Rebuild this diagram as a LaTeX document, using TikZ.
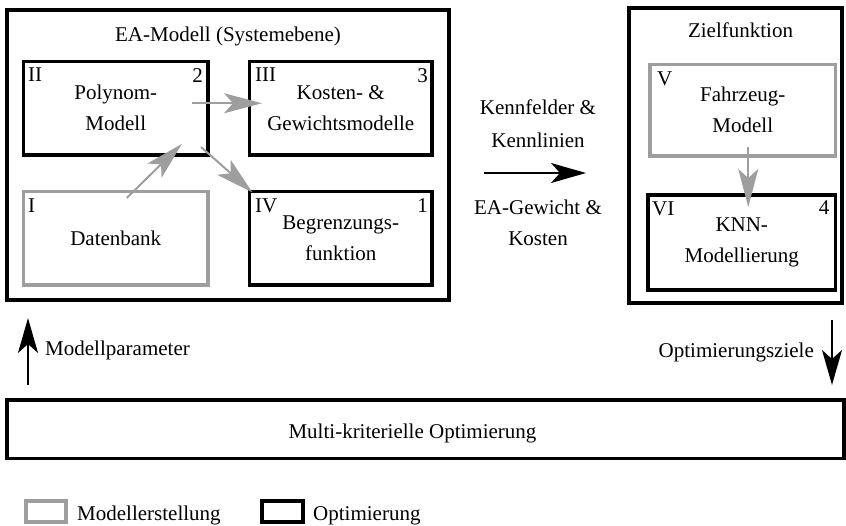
\documentclass[tikz,border=0pt]{standalone}
\usepackage{fontspec}
\setmainfont{Liberation Serif}
\usetikzlibrary{arrows.meta}

\definecolor{boxgray}{RGB}{158,158,158}

\begin{document}
\begin{tikzpicture}[x=1pt,y=-1pt,
  every node/.style={font=\fontsize{21}{31}\selectfont},
  frame/.style={draw, line width=3.5pt, inner sep=0pt, outer sep=0pt, align=center},
  optbox/.style={frame, draw=black},
  modbox/.style={frame, draw=boxgray},
  tag/.style={inner sep=0pt, anchor=north west},
  num/.style={inner sep=0pt, anchor=north east},
  plain/.style={inner sep=0pt, anchor=base},
  grayarrow/.style={draw=boxgray, line width=2pt,
    -{Stealth[length=38pt,width=20pt,inset=9pt,fill=boxgray]}},
  blackarrow/.style={draw=black, line width=2pt,
    -{Stealth[length=35pt,width=20pt,inset=9pt]}}]

\useasboundingbox (0,0) rectangle (846,525);

% system-level model
\node[optbox, minimum width=442pt, minimum height=290pt] (ea) at (228,155) {};
\node[plain] (eatitle) at ([shift={(0,31)}]ea.north) {EA-Modell (Systemebene)};

\node[optbox, minimum width=184.5pt, minimum height=93.5pt] (pol) at (115.75,108.25) {Polynom-\\Modell};
\node[optbox, minimum width=182.5pt, minimum height=93.5pt] (kos) at (340.75,108.25) {Kosten- \&\\Gewichtsmodelle};
\node[modbox, minimum width=184.5pt, minimum height=93.5pt] (dat) at (115.75,238.25) {Datenbank};
\node[optbox, minimum width=182.5pt, minimum height=93.5pt] (beg) at (340.75,238.25) {Begrenzungs-\\funktion};

\node[tag] (polI) at ([shift={(4.5,6.5)}]pol.north west) {II};
\node[num] (polN) at ([shift={(-5,6.5)}]pol.north east) {2};
\node[tag] (kosI) at ([shift={(5.5,6.5)}]kos.north west) {III};
\node[num] (kosN) at ([shift={(-4,6.5)}]kos.north east) {3};
\node[tag] (datI) at ([shift={(4.5,7)}]dat.north west) {I};
\node[tag] (begI) at ([shift={(5.5,7)}]beg.north west) {IV};
\node[num] (begN) at ([shift={(-4,7)}]beg.north east) {1};

\draw[grayarrow] ([shift={(-16,-5)}]pol.east) -- ([shift={(12.5,-5)}]kos.west);
\draw[grayarrow] ([shift={(11,6.5)}]dat.north) -- ([shift={(66,-11)}]pol.south);
\draw[grayarrow] ([shift={(-7,-8)}]pol.south east) -- ([shift={(3,1)}]beg.north west);

% objective function
\node[optbox, minimum width=213pt, minimum height=295pt] (ziel) at (735.5,155.5) {};
\node[plain] (zieltitle) at ([shift={(5,29)}]ziel.north) {Zielfunktion};

\node[modbox, minimum width=185.5pt, minimum height=91.5pt] (fah) at (742.75,110.25) {Fahrzeug-\\Modell};
\node[optbox, minimum width=187.5pt, minimum height=95pt] (knn) at (741.75,242.5) {KNN-\\Modellierung};
\node[tag] (fahI) at ([shift={(7,7.5)}]fah.north west) {V};
\node[tag] (knnI) at ([shift={(4,6.5)}]knn.north west) {VI};
\node[num] (knnN) at ([shift={(-6,5)}]knn.north east) {4};

\draw[grayarrow] ([shift={(5.5,-9)}]fah.south) -- ([shift={(6.5,12)}]knn.north);

% data passed between the two blocks
\node[plain] (kf1) at (538,114) {Kennfelder \&};
\node[plain] (kf2) at (538,147) {Kennlinien};
\node[plain] (gw1) at (538,214) {EA-Gewicht \&};
\node[plain] (gw2) at (538,245) {Kosten};
\draw[blackarrow] ([shift={(35,18)}]ea.east) -- ([shift={(-43,17.5)}]ziel.west);

% optimisation
\node[optbox, minimum width=837pt, minimum height=58.5pt] (multi) at (425.5,429.25) {};
\node[plain] (multit) at (412.5,438) {Multi-kriterielle Optimierung};

\draw[blackarrow] ([shift={(21,-15)}]multi.north west) -- ([shift={(21,18)}]ea.south west);
\node[inner sep=0pt, anchor=base west] (mp) at (45,355) {Modellparameter};
\draw[blackarrow] ([shift={(-10,17)}]ziel.south east) -- ([shift={(-12,-15)}]multi.north east);
\node[inner sep=0pt, anchor=base east] (oz) at (814,357) {Optimierungsziele};

% legend
\node[modbox, minimum width=40pt, minimum height=21pt] (leg1) at (46,511.5) {};
\node[inner sep=0pt, anchor=base west] (leg1t) at (77,520) {Modellerstellung};
\node[optbox, minimum width=41pt, minimum height=21pt] (leg2) at (282.5,511.5) {};
\node[inner sep=0pt, anchor=base west] (leg2t) at (313,520) {Optimierung};
\end{tikzpicture}
\end{document}
